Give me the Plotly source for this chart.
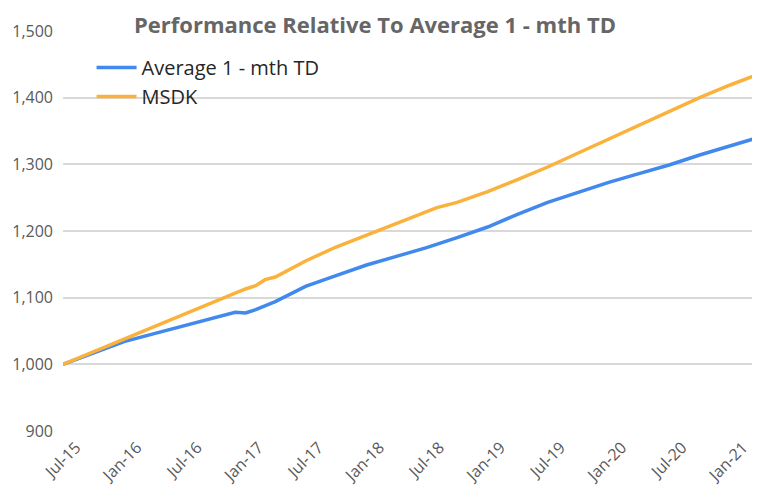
import plotly.graph_objects as go

# Data
avg_dates = ["2015-07-01", "2015-10-01", "2016-01-01", "2016-04-01", "2016-07-01",
             "2016-10-01", "2016-12-01", "2017-01-01", "2017-02-01", "2017-04-01",
             "2017-07-01", "2017-10-01", "2018-01-01", "2018-04-01", "2018-07-01",
             "2018-10-01", "2019-01-01", "2019-04-01", "2019-07-01", "2019-10-01",
             "2020-01-01", "2020-04-01", "2020-07-01", "2020-10-01", "2021-01-01",
             "2021-04-01"]
avg_values = [1000, 1017, 1034, 1046, 1058,
              1070, 1078, 1077, 1082, 1094,
              1117, 1133, 1149, 1162, 1175,
              1190, 1206, 1225, 1243, 1258,
              1273, 1286, 1299, 1314, 1328,
              1341]

msdk_dates = ["2015-07-01", "2016-01-01", "2016-07-01", "2017-01-01", "2017-02-01",
              "2017-03-01", "2017-04-01", "2017-07-01", "2017-10-01", "2018-01-01",
              "2018-04-01", "2018-07-01", "2018-08-01", "2018-10-01", "2019-01-01",
              "2019-04-01", "2019-07-01", "2019-10-01", "2020-01-01", "2020-04-01",
              "2020-07-01", "2020-10-01", "2021-01-01", "2021-04-01"]
msdk_values = [1000, 1038, 1076, 1113, 1118,
               1127, 1131, 1155, 1176, 1194,
               1211, 1228, 1235, 1243, 1259,
               1277, 1296, 1317, 1338, 1359,
               1380, 1400, 1419, 1436]

tick_dates = ["2015-07-01", "2016-01-01", "2016-07-01", "2017-01-01", "2017-07-01",
              "2018-01-01", "2018-07-01", "2019-01-01", "2019-07-01", "2020-01-01",
              "2020-07-01", "2021-01-01"]
tick_labels = ["Jul-15", "Jan-16", "Jul-16", "Jan-17", "Jul-17", "Jan-18",
               "Jul-18", "Jan-19", "Jul-19", "Jan-20", "Jul-20", "Jan-21"]
y_ticks = [900, 1000, 1100, 1200, 1300, 1400, 1500]

FONT = "Open Sans"

fig = go.Figure()
fig.add_trace(go.Scatter(x=avg_dates, y=avg_values, mode="lines",
                         name="Average 1 - mth TD",
                         line=dict(color="#4189EC", width=3.5)))
fig.add_trace(go.Scatter(x=msdk_dates, y=msdk_values, mode="lines",
                         name="MSDK",
                         line=dict(color="#FAB23C", width=3.5)))

fig.update_layout(
    width=752, height=483,
    margin=dict(l=55, r=0, t=23, b=60, autoexpand=False),
    paper_bgcolor="white", plot_bgcolor="white",
    font=dict(family=FONT, color="#595959"),
    title=dict(text="<b>Performance Relative To Average 1 - mth TD</b>",
               x=0.488, xanchor="center", y=1 - 17 / 483, yanchor="middle",
               xref="container", yref="container",
               font=dict(family=FONT, size=22, color="#666666")),
    legend=dict(x=0.041, y=0.9575, xanchor="left", yanchor="top",
                bgcolor="rgba(255,255,255,0)",
                font=dict(family=FONT, size=20, color="#262626"),
                itemwidth=40, tracegroupgap=0),
    showlegend=True,
)
fig.update_xaxes(
    type="date", range=["2015-07-01", "2021-04-01"],
    tickvals=tick_dates, ticktext=tick_labels,
    tickangle=-45, tickfont=dict(family=FONT, size=16, color="#595959"),
    showgrid=False, zeroline=False, showline=False, ticks="",
    automargin=False, ticklabelshift=13, ticklabelstandoff=3,
)
fig.update_yaxes(
    range=[900, 1500], tickvals=y_ticks, tickformat=",",
    tickfont=dict(family=FONT, size=16, color="#595959"),
    showgrid=True, gridcolor="#D9D9D9", gridwidth=1.5,
    zeroline=False, showline=False, ticks="", ticklabelstandoff=9,
    automargin=False,
)

fig.write_html("out.html")
